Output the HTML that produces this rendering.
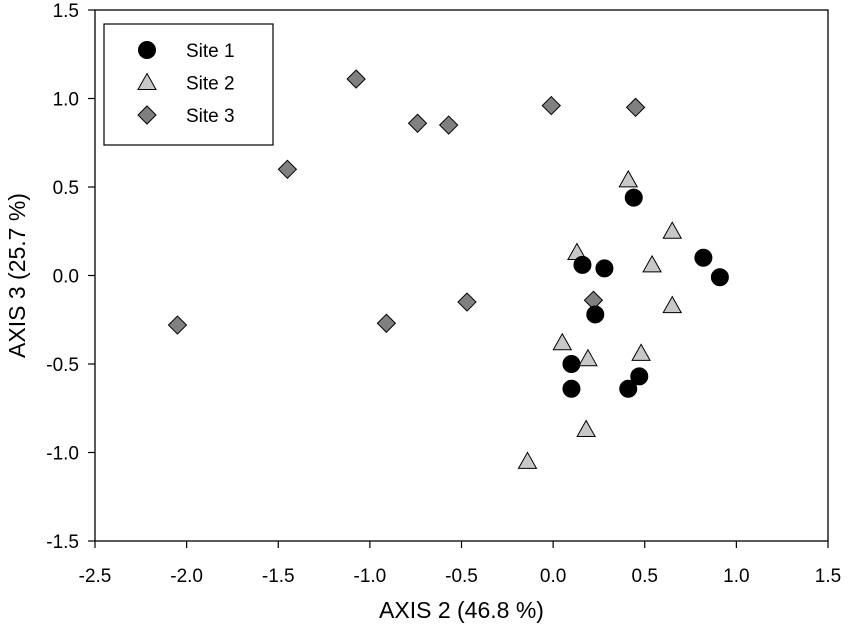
<!DOCTYPE html>
<html><head><meta charset="utf-8"><style>
html,body{margin:0;padding:0;background:#fff;}
svg{display:block;font-family:"Liberation Sans",Arial,sans-serif;}
</style></head><body>
<svg id="chart" width="850" height="634" viewBox="0 0 850 634"></svg>
<script>
const xTicks=[-2.5,-2.0,-1.5,-1.0,-0.5,0.0,0.5,1.0,1.5];
const yTicks=[-1.5,-1.0,-0.5,0.0,0.5,1.0,1.5];
const site1X=[0.44,0.16,0.28,0.82,0.91,0.23,0.10,0.10,0.47,0.41];
const site1Y=[0.44,0.06,0.04,0.10,-0.01,-0.22,-0.50,-0.64,-0.57,-0.64];
const site2X=[0.41,0.13,0.65,0.54,0.65,0.05,0.19,0.48,0.18,-0.14];
const site2Y=[0.54,0.13,0.25,0.06,-0.17,-0.38,-0.47,-0.44,-0.87,-1.05];
const site3X=[-1.075,-1.45,-0.74,-0.57,-0.01,0.45,-0.47,-0.91,0.22,-2.05];
const site3Y=[1.11,0.60,0.86,0.85,0.96,0.95,-0.15,-0.27,-0.14,-0.28];
const L=95,R=828,T=10,B=541;
const xs=v=>L+(v+2.5)/4*(R-L);
const ys=v=>B-(v+1.5)/3*(B-T);
const svg=document.getElementById('chart');
const NS='http://www.w3.org/2000/svg';
function mk(tag,attrs,parent){const e=document.createElementNS(NS,tag);for(const k in attrs)e.setAttribute(k,attrs[k]);(parent||svg).appendChild(e);return e;}
const frame=mk('rect',{x:L,y:T,width:R-L,height:B-T,fill:'none',stroke:'#000','stroke-width':1.3});


xTicks.forEach(t=>{
  const x=xs(t);
  const ln=mk('line',{x1:x,y1:B,x2:x,y2:B+7,stroke:'#000','stroke-width':1.2});
  
  
  const tx=mk('text',{x:x,y:B+41,'text-anchor':'middle','font-size':19});
  tx.textContent=t.toFixed(1);
  
  
});
yTicks.forEach(t=>{
  const y=ys(t);
  const ln=mk('line',{x1:L-7,y1:y,x2:L,y2:y,stroke:'#000','stroke-width':1.2});
  
  
  const tx=mk('text',{x:L-16,y:y+7,'text-anchor':'end','font-size':19});
  tx.textContent=t.toFixed(1);
  
  
});
const xt=mk('text',{x:(L+R)/2,y:618,'text-anchor':'middle','font-size':23});
xt.textContent='AXIS 2 (46.8 %)';


const yt=mk('text',{x:0,y:0,'text-anchor':'middle','font-size':23,transform:'translate(25,'+((T+B)/2)+') rotate(-90)'});
yt.textContent='AXIS 3 (25.7 %)';


function circle(x,y){return mk('circle',{cx:x,cy:y,r:8.5,fill:'#000',stroke:'#000'});}
function tri(x,y){return mk('polygon',{points:`${x},${y-9} ${x+9},${y+7} ${x-9},${y+7}`,fill:'#c8c8c8',stroke:'#000','stroke-width':1});}
function dia(x,y){return mk('polygon',{points:`${x},${y-9} ${x+9},${y} ${x},${y+9} ${x-9},${y}`,fill:'#808080',stroke:'#000','stroke-width':1});}
site3X.forEach((v,i)=>{const e=dia(xs(v),ys(site3Y[i]));
  
  });
site2X.forEach((v,i)=>{const e=tri(xs(v),ys(site2Y[i]));
  
  });
site1X.forEach((v,i)=>{const e=circle(xs(v),ys(site1Y[i]));
  
  });
const lg=mk('g',{});


mk('rect',{x:104,y:24,width:169,height:121,fill:'#fff',stroke:'#000','stroke-width':1.2},lg);
const labels=['Site 1','Site 2','Site 3'];
const fns=[circle,tri,dia];
labels.forEach((s,i)=>{
  const y=50+i*32.5;
  const m=fns[i](147,y);lg.appendChild(m);
  const t=mk('text',{x:186,y:y+7,'font-size':19},lg);t.textContent=s;
  
  
});
</script>
</body></html>
